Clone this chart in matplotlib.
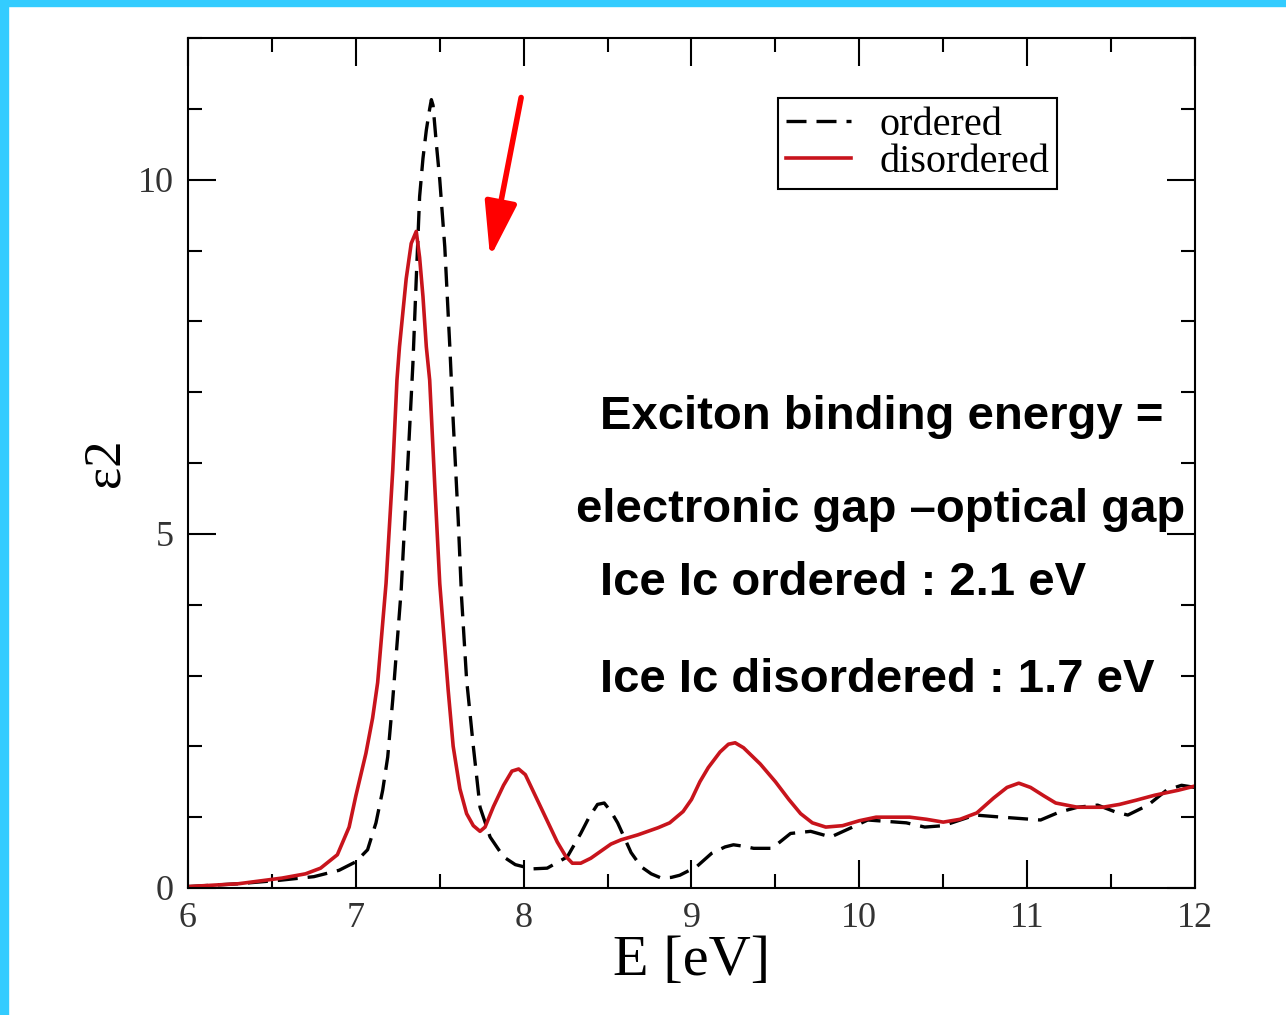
import matplotlib
matplotlib.use("Agg")
import matplotlib.pyplot as plt
from matplotlib.patches import Rectangle
from matplotlib.ticker import MultipleLocator

# photon energy (eV) and eps2 for the ordered structure
e_ord = [6.0, 6.3, 6.55, 6.75, 6.9, 7.0, 7.07, 7.12, 7.16, 7.19, 7.22, 7.27, 7.31,
         7.34, 7.36, 7.38, 7.40, 7.42, 7.44, 7.45, 7.46, 7.48, 7.50, 7.53, 7.56,
         7.58, 7.61, 7.63, 7.66, 7.70, 7.74, 7.80, 7.88, 7.95, 8.05, 8.14, 8.26,
         8.34, 8.39, 8.44, 8.48, 8.52, 8.56, 8.64, 8.70, 8.76, 8.82, 8.88, 8.93,
         9.03, 9.12, 9.2, 9.25, 9.31, 9.37, 9.48, 9.59, 9.71, 9.83, 9.96, 10.05,
         10.28, 10.39, 10.5, 10.69, 10.85, 11.08, 11.19, 11.3, 11.42, 11.53,
         11.6, 11.72, 11.83, 11.92, 12.0]
eps_ord = [0.02, 0.06, 0.11, 0.16, 0.25, 0.37, 0.54, 0.92, 1.38, 1.85, 2.66, 4.2, 6.0,
           7.4, 8.6, 9.76, 10.3, 10.7, 11.0, 11.13, 11.05, 10.5, 10.0, 9.05, 7.64,
           6.6, 5.2, 4.1, 2.94, 2.0, 1.14, 0.72, 0.44, 0.33, 0.27, 0.28, 0.44,
           0.77, 1.0, 1.18, 1.2, 1.08, 0.92, 0.5, 0.3, 0.2, 0.14, 0.15, 0.18,
           0.3, 0.49, 0.58, 0.61, 0.59, 0.56, 0.56, 0.77, 0.8, 0.72, 0.86, 0.96,
           0.92, 0.86, 0.88, 1.03, 1.0, 0.96, 1.07, 1.14, 1.17, 1.07,
           1.03, 1.17, 1.38, 1.45, 1.42]

# photon energy (eV) and eps2 for the disordered structure
e_dis = [6.0, 6.3, 6.56, 6.7, 6.79, 6.89, 6.96, 7.0, 7.06, 7.1, 7.13, 7.18, 7.22,
         7.245, 7.26, 7.30, 7.33, 7.36, 7.38, 7.40, 7.42, 7.44, 7.47, 7.50, 7.55,
         7.58, 7.62, 7.66, 7.70, 7.74, 7.77, 7.82, 7.88, 7.93, 7.97, 8.01, 8.07,
         8.14, 8.20, 8.25, 8.29, 8.34, 8.40, 8.46, 8.52, 8.58, 8.68, 8.80, 8.87,
         8.95, 9.0, 9.05, 9.10, 9.17, 9.22, 9.26, 9.31, 9.41, 9.50, 9.58, 9.65,
         9.72, 9.80, 9.90, 10.0, 10.1, 10.3, 10.4, 10.5, 10.6, 10.7, 10.8, 10.88,
         10.95, 11.02, 11.1, 11.17, 11.3, 11.45, 11.55, 11.65, 11.76, 11.9, 12.0]
eps_dis = [0.02, 0.06, 0.14, 0.2, 0.28, 0.47, 0.86, 1.3, 1.9, 2.4, 2.9, 4.3, 5.9,
           7.17, 7.64, 8.6, 9.1, 9.27, 8.9, 8.35, 7.64, 7.17, 5.7, 4.3, 2.8,
           2.0, 1.4, 1.05, 0.88, 0.8, 0.86, 1.15, 1.45, 1.65, 1.68, 1.6, 1.3,
           0.95, 0.65, 0.45, 0.35, 0.35, 0.42, 0.52, 0.62, 0.68, 0.75, 0.85, 0.92,
           1.08, 1.25, 1.5, 1.7, 1.92, 2.03, 2.05, 1.98, 1.75, 1.5, 1.25, 1.05,
           0.92, 0.86, 0.88, 0.95, 1.0, 1.0, 0.97, 0.93, 0.97, 1.06, 1.27, 1.42,
           1.48, 1.42, 1.3, 1.2, 1.14, 1.14, 1.18, 1.24, 1.31, 1.38, 1.44]

notes = ["Exciton binding energy =",
         "electronic gap \u2013optical gap",
         "Ice Ic ordered : 2.1 eV",
         "Ice Ic disordered : 1.7 eV"]
note_x = [8.455, 8.31, 8.455, 8.455]
note_y = [6.65, 5.33, 4.31, 2.94]

red = "#c8141c"

fig = plt.figure(figsize=(12.86, 10.15), dpi=100)
fig.patches.append(Rectangle((0, 0), 8 / 1286, 1, transform=fig.transFigure,
                             color="#33ccff", zorder=0))
fig.patches.append(Rectangle((0, 1 - 6 / 1015), 1, 6 / 1015, transform=fig.transFigure,
                             color="#33ccff", zorder=0))

ax = fig.add_axes([188 / 1286, 1 - 888 / 1015, 1007 / 1286, 850 / 1015])
ax.plot(e_ord, eps_ord, color="black", lw=2.4, dashes=(6, 3), label="ordered")
ax.plot(e_dis, eps_dis, color=red, lw=2.6, label="disordered",
        solid_joinstyle="round")

ax.set_xlim(6, 12)
ax.set_ylim(0, 12)
ax.xaxis.set_major_locator(MultipleLocator(1))
ax.xaxis.set_minor_locator(MultipleLocator(0.5))
ax.yaxis.set_major_locator(MultipleLocator(5))
ax.yaxis.set_minor_locator(MultipleLocator(1))
ax.tick_params(which="both", direction="in", top=True, right=True, width=1.5)
ax.tick_params(which="major", length=20, pad=10)
ax.tick_params(which="minor", length=10)
for lab in ax.get_xticklabels() + ax.get_yticklabels():
    lab.set_family("Liberation Serif")
    lab.set_fontsize(26)
    lab.set_color("#333333")
for s in ax.spines.values():
    s.set_linewidth(1.5)

ax.set_xlabel("E [eV]", family="Liberation Serif", fontsize=42, labelpad=0)
ax.set_ylabel("\u03b52", family="Liberation Serif", fontsize=38, labelpad=6)

leg = ax.legend(loc="upper right", bbox_to_anchor=(0.863, 0.929),
                prop={"family": "Liberation Serif", "size": 29},
                fancybox=False, edgecolor="black", framealpha=1,
                handlelength=1.6, borderpad=0.2, labelspacing=0.0,
                handletextpad=0.7, borderaxespad=0)
leg.get_frame().set_linewidth(1.5)

for t, x, y in zip(notes, note_x, note_y):
    ax.text(x, y, t, family="Liberation Sans", fontweight="bold", fontsize=34,
            va="center", ha="left", clip_on=False)

ax.annotate("", xy=(7.80, 8.9), xytext=(7.985, 11.16),
            arrowprops=dict(arrowstyle="-|>,head_length=1.2,head_width=0.35",
                            mutation_scale=28, color="red", lw=4,
                            shrinkA=0, shrinkB=0))

fig.savefig("out.png", dpi=100)
